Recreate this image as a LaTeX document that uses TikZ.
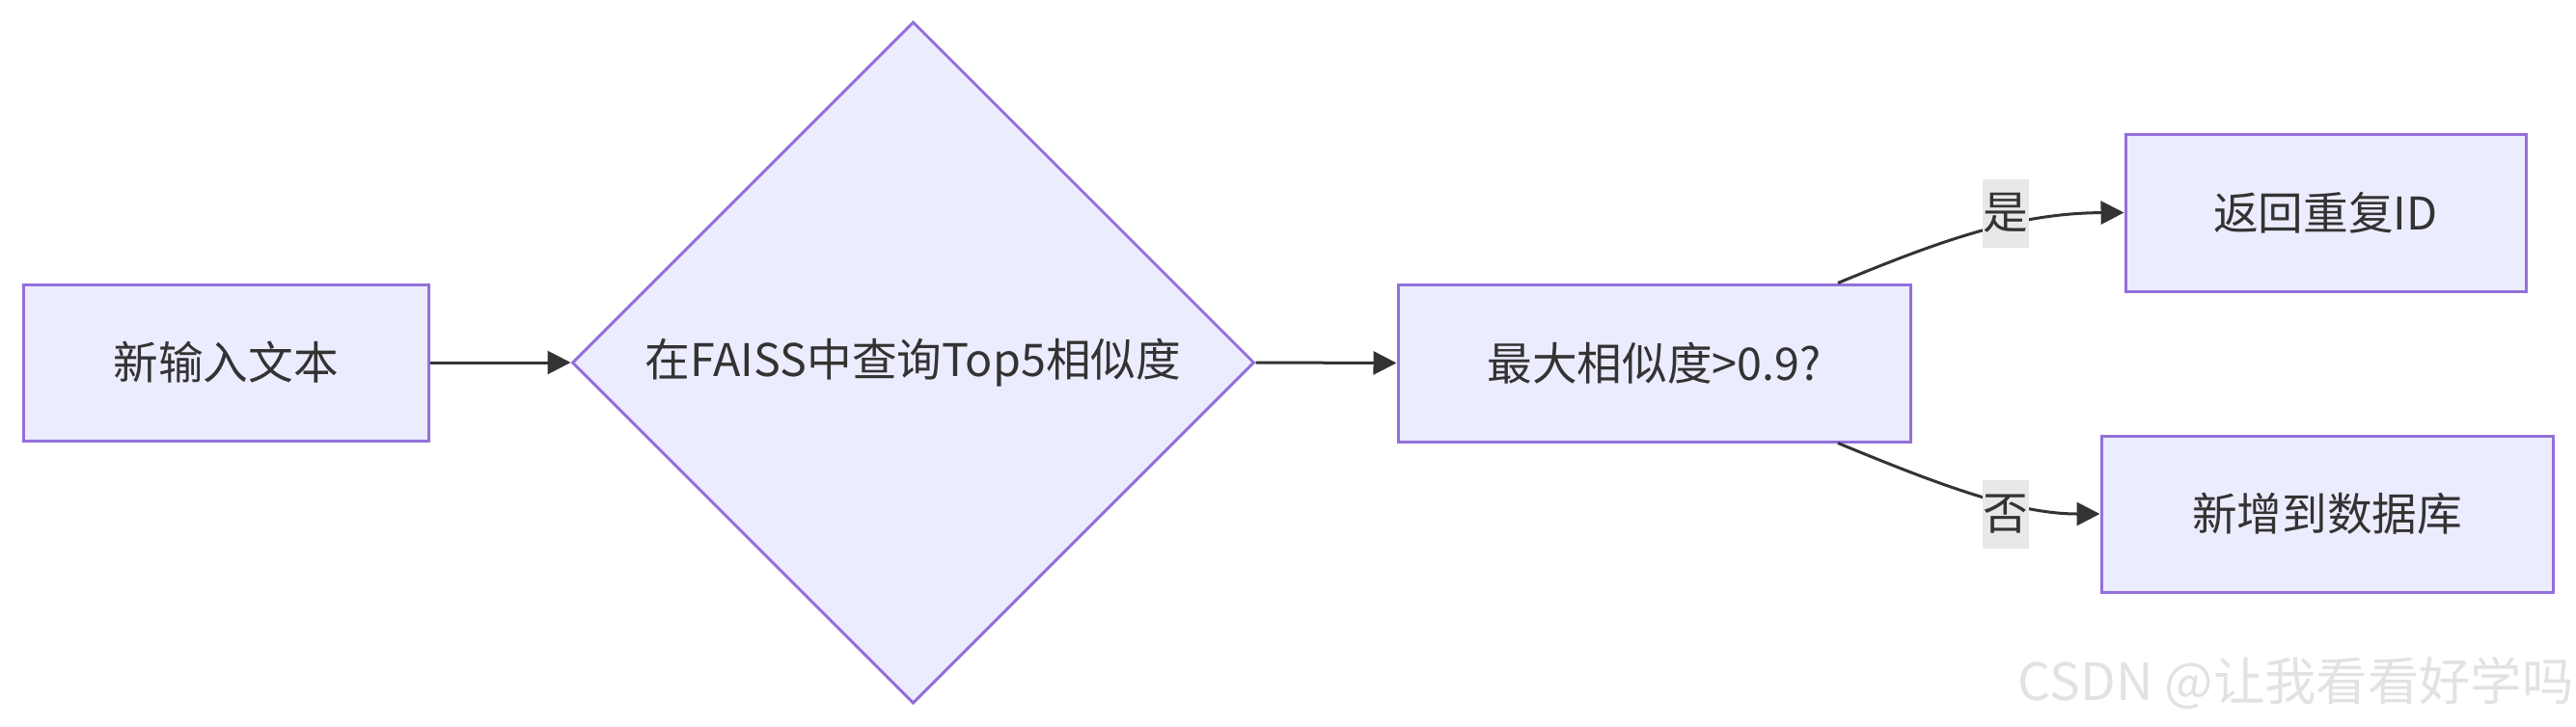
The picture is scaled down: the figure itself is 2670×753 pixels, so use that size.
\documentclass[tikz,border=0pt]{standalone}
\usepackage{fontspec}
\setmainfont{Noto Sans CJK SC}
\usetikzlibrary{shapes.geometric,arrows.meta}
\definecolor{nodefill}{HTML}{ECECFF}
\definecolor{nodeline}{HTML}{9370DB}
\definecolor{edgeline}{HTML}{333333}
\definecolor{lblbg}{HTML}{E8E8E8}
\definecolor{wmark}{RGB}{226,226,226}
\begin{document}
\begin{tikzpicture}[x=0.3pt,y=-0.3pt,
  box/.style={draw=nodeline,fill=nodefill,line width=0.9pt,text=edgeline,font=\fontsize{14}{16}\selectfont,inner sep=0pt},
  dia/.style={box,shape=diamond,aspect=1},
  edge/.style={draw=edgeline,line width=0.9pt,-{Triangle[length=7.2pt,width=7.2pt]}},
  lbl/.style={fill=lblbg,text=edgeline,font=\fontsize{14}{16}\selectfont,minimum width=14.4pt,minimum height=21.3pt,inner sep=0pt}]
\useasboundingbox (0,0) rectangle (2670,753);
\node[box,minimum width=126pt,minimum height=48.6pt] (b1) at (234,376) {新输入文本};
\node[dia,minimum width=212.1pt,minimum height=212.1pt] (d) at (946.5,376) {在FAISS中查询Top5相似度};
\node[box,minimum width=159.3pt,minimum height=48.9pt] (b2) at (1714.5,376.5) {最大相似度>0.9?};
\node[box,minimum width=124.5pt,minimum height=48.9pt] (b3) at (2410.5,220.5) {返回重复ID};
\node[box,minimum width=140.4pt,minimum height=48.6pt] (b4) at (2412,533) {新增到数据库};
\draw[edge] (b1.east) -- (d.west);
\draw[edge] (d.east) -- (b2.west);
\draw[edge] ([xshift=57.15pt]b2.north) .. controls (2010,250) and (2090,221) .. (b3.west);
\draw[edge] ([xshift=57.15pt]b2.south) .. controls (2010,503) and (2090,533) .. (b4.west);
\node[lbl] (l1) at (2079,221) {是};
\node[lbl] (l2) at (2079,533) {否};
\node[anchor=east,text=wmark,font=\fontsize{16}{18}\selectfont,inner sep=0pt] (wm) at (2668,708) {CSDN @让我看看好学吗};
\end{tikzpicture}
\end{document}
